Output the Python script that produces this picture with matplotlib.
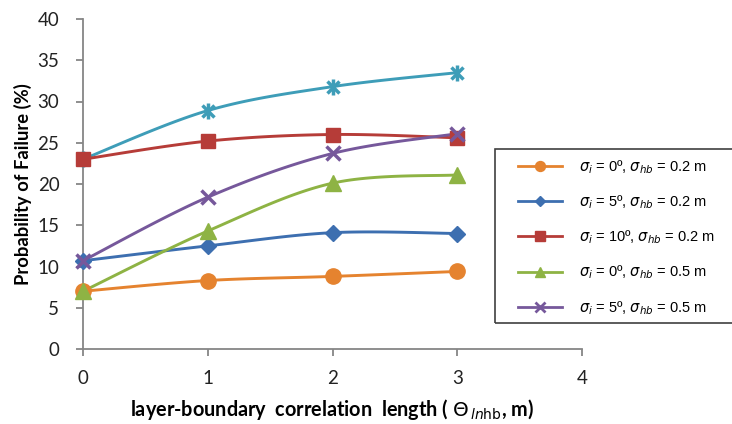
import numpy as np
import matplotlib
matplotlib.use("Agg")
import matplotlib.pyplot as plt
from matplotlib.patches import Rectangle
from matplotlib.lines import Line2D

# correlation length (m)
theta = [0, 1, 2, 3]

# probability of failure (%)
pf_i0_hb02 = [7.0, 8.3, 8.8, 9.4]
pf_i5_hb02 = [10.7, 12.5, 14.1, 14.0]
pf_i10_hb02 = [23.0, 25.2, 26.0, 25.6]
pf_i0_hb05 = [7.0, 14.3, 20.1, 21.1]
pf_i5_hb05 = [10.7, 18.4, 23.7, 26.1]
pf_i10_hb05 = [23.0, 28.9, 31.8, 33.5]

labels = [r'$\sigma_i$ = 0º, $\sigma_{hb}$ = 0.2 m',
          r'$\sigma_i$ = 5º, $\sigma_{hb}$ = 0.2 m',
          r'$\sigma_i$ = 10º, $\sigma_{hb}$ = 0.2 m',
          r'$\sigma_i$ = 0º, $\sigma_{hb}$ = 0.5 m',
          r'$\sigma_i$ = 5º, $\sigma_{hb}$ = 0.5 m']


def smooth(x, y, n=30):
    # excel style smoothed line (cubic bezier through the points)
    x = np.asarray(x, float)
    y = np.asarray(y, float)
    px, py = [], []
    for i in range(len(x) - 1):
        x0, y0 = x[max(i - 1, 0)], y[max(i - 1, 0)]
        x3, y3 = x[min(i + 2, len(x) - 1)], y[min(i + 2, len(y) - 1)]
        c1x = x[i] + (x[i + 1] - x0) / 6
        c1y = y[i] + (y[i + 1] - y0) / 6
        c2x = x[i + 1] - (x3 - x[i]) / 6
        c2y = y[i + 1] - (y3 - y[i]) / 6
        t = np.linspace(0, 1, n)
        bx = (1-t)**3*x[i] + 3*(1-t)**2*t*c1x + 3*(1-t)*t**2*c2x + t**3*x[i+1]
        by = (1-t)**3*y[i] + 3*(1-t)**2*t*c1y + 3*(1-t)*t**2*c2y + t**3*y[i+1]
        px.extend(bx)
        py.extend(by)
    return px, py


fig = plt.figure(figsize=(7.32, 4.24), dpi=100)
ax = fig.add_axes([83/732, 1-349/424, (582-83)/732, (349-19)/424])

series = [
    (pf_i10_hb05, '#3E9DB8', None, 0),
    (pf_i0_hb02, '#E5832F', 'o', 11),
    (pf_i5_hb02, '#3D6FB0', 'D', 8),
    (pf_i10_hb02, '#B63C38', 's', 10),
    (pf_i0_hb05, '#8EB344', '^', 11),
    (pf_i5_hb05, '#76589B', 'x', 10),
]

for vals, col, mk, ms in series:
    sx, sy = smooth(theta, vals)
    ax.plot(sx, sy, color=col, lw=2.1, zorder=2, clip_on=False)
    if mk == 'x':
        ax.plot(theta, vals, ls='none', marker='x', color=col, ms=ms, mew=2.5, zorder=3, clip_on=False)
    elif mk is None:
        ax.plot(theta, vals, ls='none', marker='x', color=col, ms=9, mew=2.5, zorder=3, clip_on=False)
        ax.plot(theta, vals, ls='none', marker='|', color=col, ms=11, mew=2.5, zorder=3, clip_on=False)
    else:
        ax.plot(theta, vals, ls='none', marker=mk, color=col, ms=ms, zorder=3, clip_on=False)

ax.set_xlim(0, 4)
ax.set_ylim(0, 40)
ax.set_xticks([0, 1, 2, 3, 4])
ax.set_yticks(range(0, 41, 5))
for s in ['top', 'right']:
    ax.spines[s].set_visible(False)
for s in ['left', 'bottom']:
    ax.spines[s].set_color('#868686')
    ax.spines[s].set_linewidth(1.3)
ax.tick_params(colors='#868686', labelcolor='#222222', length=5, width=1.3,
               labelsize=13.5)
for lb in ax.get_xticklabels() + ax.get_yticklabels():
    lb.set_family('Lato')
ax.tick_params(axis='x', pad=10)
ax.tick_params(axis='y', pad=12)

ax.set_ylabel('Probability of Failure (%)', family='Lato', fontweight='bold',
              fontsize=13.2)
ax.yaxis.set_label_coords(-0.103, 0.5)
fig.text(0.5*(83+582)/732, 1-410/424,
         r'layer-boundary  correlation  length ( $\mathit{\Theta}_{\,\mathit{ln}\mathrm{hb}}$, m)',
         family='Lato', fontweight='bold', fontsize=14.3, ha='center', va='center')

# legend box (runs off the right edge like the original)
fig.patches.append(Rectangle((495/732, 1-323/424), (740-495)/732, (323-149)/424,
                             transform=fig.transFigure, fill=False,
                             edgecolor='#404040', lw=1.2))
handles = []
for vals, col, mk, ms in series[1:]:
    handles.append(Line2D([0], [0], color=col, lw=2.0, marker=mk,
                          ms=ms*0.65, mew=2 if mk == 'x' else 1))
fig.legend(handles, labels, loc='upper left', bbox_to_anchor=(505/732, 1-145/424),
           frameon=False, prop={'family': 'Liberation Sans', 'size': 10.5},
           handlelength=3.0, labelspacing=1.2, handletextpad=1.2)

fig.savefig('out.png', dpi=100)
